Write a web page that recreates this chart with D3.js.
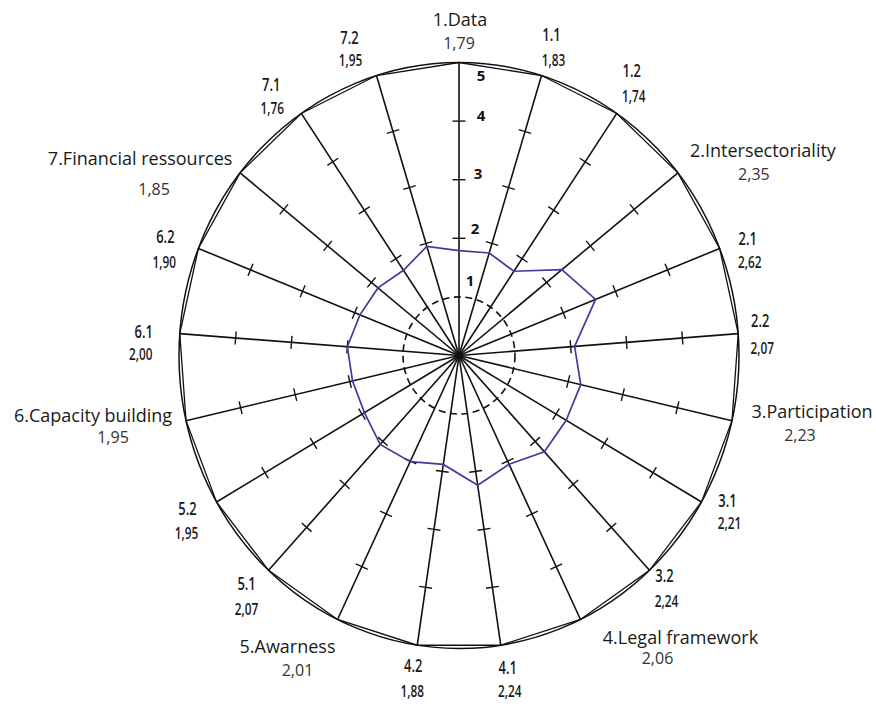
<!DOCTYPE html>
<html>
<head>
<meta charset="utf-8">
<script src="https://cdn.jsdelivr.net/npm/d3@7"></script>
<style>
  html, body { margin: 0; padding: 0; background: #fff; }
  svg { display: block; }
</style>
</head>
<body>
<svg id="chart" width="876" height="706"></svg>
<script>
// ---------------- DATA ----------------
const axisNames = ["1.Data", "1.1", "1.2", "2.Intersectoriality", "2.1", "2.2",
  "3.Participation", "3.1", "3.2", "4.Legal framework", "4.1", "4.2",
  "5.Awarness", "5.1", "5.2", "6.Capacity building", "6.1", "6.2",
  "7.Financial ressources", "7.1", "7.2"];
const axisValues = [1.79, 1.83, 1.74, 2.35, 2.62, 2.07,
  2.23, 2.21, 2.24, 2.06, 2.24, 1.88,
  2.01, 2.07, 1.95, 1.95, 2.00, 1.90,
  1.85, 1.76, 1.95];
const axisLevel = ["main", "sub", "sub", "main", "sub", "sub",
  "main", "sub", "sub", "main", "sub", "sub",
  "main", "sub", "sub", "main", "sub", "sub",
  "main", "sub", "sub"];
const scaleLabels = [1, 2, 3, 4, 5];
const tickValues = [2, 3, 4];
const maxValue = 5;

// ---------------- LAYOUT ----------------
const W = 876, H = 706;
const cx = 459, cy = 355.5, RX = 280, RY = 293;
// label offsets relative to each axis end point [dx, dy] (name, value)
const nameOffsets = [[1,-37],[10,-35],[15,-36],[85,-16],[28,-3],[22,-7],
  [80,-3],[26,5],[15,12],[100,25],[7,29],[-4,27],
  [-50,34],[-22,20],[-29,13],[-93,1],[-36,4],[-33,-5],
  [-100,-8],[-30,-22],[-27,-32]];
const valueOffsets = [[0,-14],[12,-10],[17,-11],[76,7],[30,20],[24,20],
  [68,20],[28,27],[17,37],[77,45],[9,52],[-5,52],
  [-40,57],[-22,45],[-30,37],[-73,22],[-39,26],[-34,20],
  [-86,22],[-29,1],[-26,-10]];
const scaleLabelOffsets = [[11,-11],[16,-4],[19,-1],[22,0],[22,18]];

const svg = d3.select("#chart");
svg.append("rect").attr("width", W).attr("height", H).attr("fill", "#fff");

const n = axisNames.length;
const rX = d3.scaleLinear().domain([0, maxValue]).range([0, RX]);
const rY = d3.scaleLinear().domain([0, maxValue]).range([0, RY]);
const angle = d3.scaleLinear().domain([0, n]).range([0, 2 * Math.PI]);
const pt = (i, v) => {
  const a = angle(i);
  return [cx + rX(v) * Math.sin(a), cy - rY(v) * Math.cos(a)];
};
const fmt = v => d3.format(".2f")(v).replace(".", ",");

const g = svg.append("g");

// outer ellipse
g.append("ellipse").attr("cx", cx).attr("cy", cy)
  .attr("rx", rX(maxValue)).attr("ry", rY(maxValue))
  .attr("fill", "none").attr("stroke", "#111").attr("stroke-width", 1.5);

// level-5 polygon
const closed = d3.line().curve(d3.curveLinearClosed);
g.append("path")
  .attr("d", closed(d3.range(n).map(i => pt(i, maxValue))))
  .attr("fill", "none").attr("stroke", "#111").attr("stroke-width", 1.3);

// dashed level-1 ellipse
g.append("ellipse").attr("cx", cx).attr("cy", cy)
  .attr("rx", rX(1)).attr("ry", rY(1))
  .attr("fill", "none").attr("stroke", "#111").attr("stroke-width", 1.6)
  .attr("stroke-dasharray", "7,4.5");

// spokes
g.selectAll("line.spoke").data(d3.range(n)).join("line")
  .attr("class", "spoke")
  .attr("x1", cx).attr("y1", cy)
  .attr("x2", i => pt(i, maxValue)[0]).attr("y2", i => pt(i, maxValue)[1])
  .attr("stroke", "#111").attr("stroke-width", 1.6);

// tick marks on each spoke
const tickData = [];
d3.range(n).forEach(i => tickValues.forEach(v => tickData.push({i, v})));
const half = 6.5;
g.selectAll("line.tick").data(tickData).join("line")
  .attr("class", "tick")
  .each(function(d) {
    const a = angle(d.i);
    let dx = rX(1) * Math.sin(a), dy = -rY(1) * Math.cos(a);
    const L = Math.hypot(dx, dy); dx /= L; dy /= L;
    const p = pt(d.i, d.v);
    d3.select(this)
      .attr("x1", p[0] - dy * half).attr("y1", p[1] + dx * half)
      .attr("x2", p[0] + dy * half).attr("y2", p[1] - dx * half);
  })
  .attr("stroke", "#111").attr("stroke-width", 1.4);

// data polygon
g.append("path")
  .attr("d", closed(axisValues.map((v, i) => pt(i, v))))
  .attr("fill", "none").attr("stroke", "#3f3c9c").attr("stroke-width", 1.7)
  .attr("stroke-linejoin", "miter");

// scale labels on the top axis
g.selectAll("text.scale").data(scaleLabels).join("text")
  .attr("class", "scale")
  .attr("x", (v, k) => pt(0, v)[0] + scaleLabelOffsets[k][0])
  .attr("y", (v, k) => pt(0, v)[1] + scaleLabelOffsets[k][1])
  .attr("text-anchor", "middle")
  .attr("font-family", "'Open Sans', 'DejaVu Sans', sans-serif")
  .attr("font-weight", "bold").attr("font-size", 15).attr("fill", "#111")
  .text(v => v);

// axis labels
const mainFont = "'Open Sans', 'Noto Sans', sans-serif";
const condense = 0.74;
d3.range(n).forEach(i => {
  const e = pt(i, maxValue);
  const main = axisLevel[i] === "main";
  const nx = e[0] + nameOffsets[i][0], ny = e[1] + nameOffsets[i][1];
  const vx = e[0] + valueOffsets[i][0], vy = e[1] + valueOffsets[i][1];
  const t1 = g.append("text")
    .attr("text-anchor", "middle")
    .attr("font-family", mainFont)
    .attr("fill", "#1a1a1a")
    .text(axisNames[i]);
  const t2 = g.append("text")
    .attr("text-anchor", "middle")
    .attr("font-family", mainFont)
    .text(fmt(axisValues[i]));
  if (main) {
    t1.attr("x", nx).attr("y", ny).attr("font-size", 18);
    t2.attr("x", vx).attr("y", vy).attr("font-size", 16).attr("fill", "#333");
  } else {
    t1.attr("transform", `translate(${nx},${ny}) scale(${condense},1)`)
      .attr("font-size", 17.5).attr("font-weight", 600);
    t2.attr("transform", `translate(${vx},${vy}) scale(${condense},1)`)
      .attr("font-size", 16).attr("font-weight", 600).attr("fill", "#1a1a1a");
  }
});
</script>
</body>
</html>
